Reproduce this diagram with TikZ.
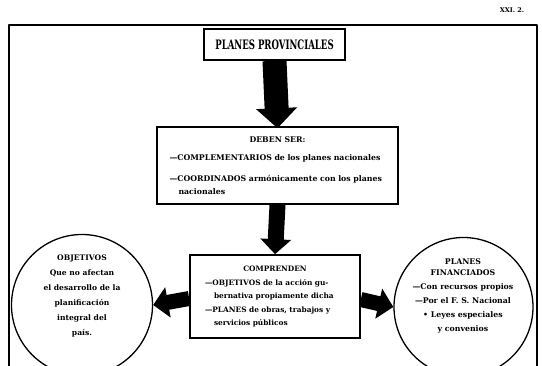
\documentclass[tikz,border=0pt]{standalone}
\usepackage{fontspec}
\usepackage{graphicx}
\setmainfont{DejaVu Serif}
\usetikzlibrary{arrows.meta}

\tikzset{
  frameline/.style={line width=2pt, line cap=round, line join=round},
  boxline/.style={draw, line width=1.6pt, inner sep=0pt},
  ring/.style={draw, circle, line width=1.3pt, inner sep=0pt, minimum size=#1},
  bigarrow/.style={line width=#1, -{Triangle[length=20pt,width=40pt]}},
  medarrow/.style={line width=15pt, -{Triangle[length=15pt,width=30pt]}},
  bodytext/.style={font=\fontsize{7.8}{13.5}\selectfont\bfseries, inner sep=0pt},
}
\newcommand{\indentline}{\hspace*{9pt}}
\newcommand{\headline}[1]{\hspace*{\fill}#1\hspace*{\fill}\null}

\begin{document}
\begin{tikzpicture}[x=1pt, y=-1pt]
  \useasboundingbox (0,0) rectangle (542,365);
  \clip (0,0) rectangle (542,365);

  % page mark
  \node[font=\fontsize{6.5}{8}\selectfont\bfseries] (mark) at (512,10) {XXI. 2.};

  % outer frame, open at the bottom
  \coordinate (fbl) at (9,366);
  \coordinate (ftl) at (9,25);
  \coordinate (ftr) at (537,25);
  \coordinate (fbr) at (537,366);
  \draw[frameline] (fbl) -- (ftl) -- (ftr) -- (fbr);

  % title box, condensed heavy lettering
  \node[boxline, minimum width=141pt, minimum height=31pt,
        font=\fontsize{13}{14}\selectfont\bfseries]
    (title) at (274.5,44.5) {\scalebox{0.66}[1]{PLANES PROVINCIALES}};

  % "deben ser" box
  \node[boxline, minimum width=241pt, minimum height=77pt, text width=216pt,
        align=left, bodytext] (deben) at (277.5,165.5)
    {\headline{DEBEN SER:}\\[5pt]
     —COMPLEMENTARIOS de los planes nacionales\\[7pt]
     —COORDINADOS armónicamente con los planes\\
     \indentline nacionales};

  % "comprenden" box
  \node[boxline, minimum width=170pt, minimum height=83pt, text width=140pt,
        align=left, bodytext, font=\fontsize{7.4}{12.8}\selectfont\bfseries]
    (comp) at (275,296.5)
    {\headline{COMPRENDEN}\\[1pt]
     —OBJETIVOS de la acción gu-\\
     \indentline bernativa propiamente dicha\\[1pt]
     —PLANES de obras, trabajos y\\
     \indentline servicios públicos};

  % side circles
  \node[ring=141pt] (obj) at (82,305) {};
  \node[ring=139pt] (fin) at (463.5,307) {};

  \node[bodytext, align=center, font=\fontsize{7.6}{15}\selectfont\bfseries]
    (objtext) at (82,296)
    {OBJETIVOS\\ Que no afectan\\ el desarrollo de la\\ planificación\\
     integral del\\ país.};

  \node[bodytext, align=center, font=\fontsize{7.8}{14}\selectfont\bfseries]
    (fintext) at (463,296)
    {PLANES\\[-3pt] FINANCIADOS\\ —Con recursos propios\\
     —Por el F. S. Nacional\\ • Leyes especiales\\ y convenios};

  % block arrows between the parts
  \draw[bigarrow=24pt] (title.south) -- ([yshift=-2pt]deben.north);
  \draw[line width=16pt, -{Triangle[length=15pt,width=30pt]}]
    (deben.south) -- (comp.north);
  \draw[medarrow] ([yshift=-2pt]comp.west) -- (obj.east);
  \draw[medarrow] ([yshift=-3pt]comp.east) -- (fin.west);
\end{tikzpicture}
\end{document}
